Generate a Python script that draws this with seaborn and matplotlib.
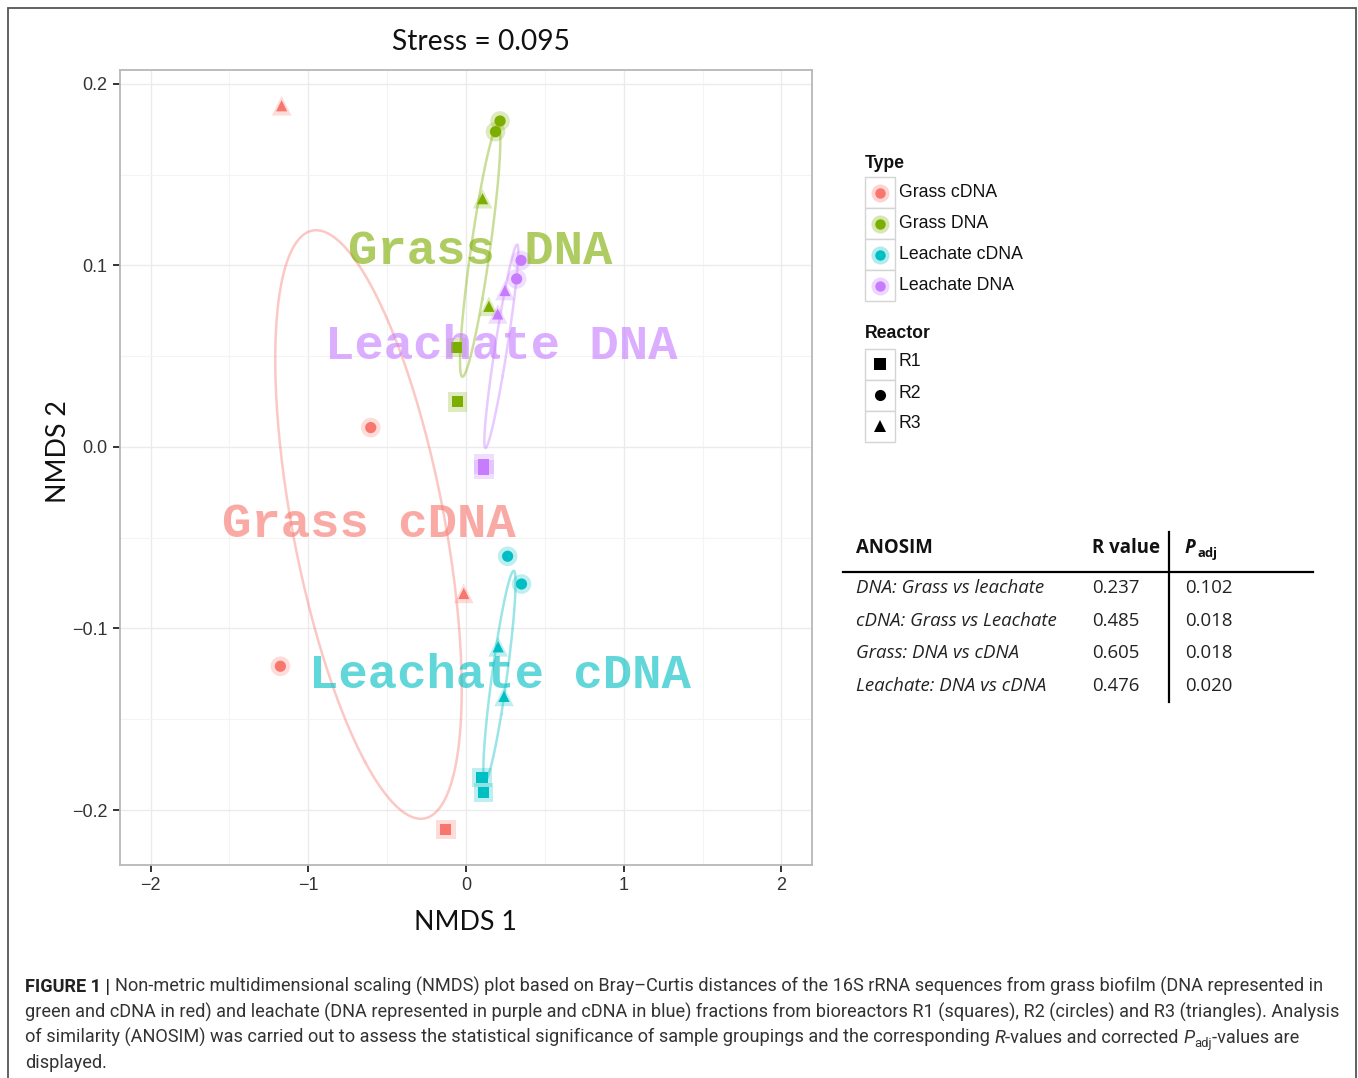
import numpy as np
import pandas as pd
import matplotlib
matplotlib.use("Agg")
import matplotlib.pyplot as plt
from matplotlib.patches import Rectangle
from matplotlib.lines import Line2D
import seaborn as sns

# ---------------- data ----------------
types = (["Grass cDNA"] * 5 + ["Grass DNA"] * 6 +
         ["Leachate cDNA"] * 6 + ["Leachate DNA"] * 6)
reactors = (["R3", "R2", "R3", "R2", "R1"] +
            ["R2", "R2", "R3", "R3", "R1", "R1"] +
            ["R2", "R2", "R3", "R3", "R1", "R1"] +
            ["R2", "R2", "R3", "R3", "R1", "R1"])
nmds1 = [-1.169, -0.604, -0.014, -1.177, -0.128,
         0.216, 0.187, 0.105, 0.145, -0.060, -0.053,
         0.264, 0.352, 0.204, 0.241, 0.102, 0.111,
         0.349, 0.321, 0.247, 0.201, 0.113, 0.113]
nmds2 = [0.188, 0.0107, -0.0807, -0.1208, -0.2107,
         0.1796, 0.1737, 0.1368, 0.0775, 0.0549, 0.0249,
         -0.0602, -0.0755, -0.1101, -0.1374, -0.1821, -0.1904,
         0.1028, 0.0926, 0.0862, 0.0733, -0.0095, -0.0125]

type_order = ["Grass cDNA", "Grass DNA", "Leachate cDNA", "Leachate DNA"]
type_colors = ["#F8766D", "#7CAE00", "#00BFC4", "#C77CFF"]
reactor_order = ["R1", "R2", "R3"]
reactor_markers = ["s", "o", "^"]

stress_text = "Stress = 0.095"
x_ticks = [-2, -1, 0, 1, 2]
y_ticks = [-0.2, -0.1, 0.0, 0.1, 0.2]

anosim_comparisons = ["DNA: Grass vs leachate", "cDNA: Grass vs Leachate",
                      "Grass: DNA vs cDNA", "Leachate: DNA vs cDNA"]
anosim_r = ["0.237", "0.485", "0.605", "0.476"]
anosim_p = ["0.102", "0.018", "0.018", "0.020"]

df = pd.DataFrame({"NMDS1": nmds1, "NMDS2": nmds2, "Type": types, "Reactor": reactors})
pal = dict(zip(type_order, type_colors))
mk = dict(zip(reactor_order, reactor_markers))

# ---------------- figure ----------------
W, H = 1358, 1078
fig = plt.figure(figsize=(W / 100, H / 100), dpi=100)
fig.patch.set_facecolor("white")
renderer = fig.canvas.get_renderer()


def fx(x):
    return x / W


def fy(y):
    return 1 - y / H


def text_w(s, **kw):
    t = fig.text(0, 0, "X" + s + "X", **kw)
    w1 = t.get_window_extent(renderer).width
    t.remove()
    t = fig.text(0, 0, "XX", **kw)
    w0 = t.get_window_extent(renderer).width
    t.remove()
    return w1 - w0


def fit_size(s, target, **kw):
    return 10 * target / text_w(s, size=10, **kw)


# outer frame of the figure
fig.add_artist(Rectangle((fx(8), -0.01), (1356 - 8) / W, fy(8) + 0.01,
                         transform=fig.transFigure, fill=False,
                         edgecolor="#555555", lw=1.3))

ax = fig.add_axes([fx(120), fy(865), 692 / W, 795 / H])
ax.set_facecolor("white")
ax.set_xlim(-2.194, 2.194)
ax.set_ylim(-0.2303, 0.2077)
ax.set_xticks(x_ticks)
ax.set_xticklabels([("\u2212%d" % -v) if v < 0 else "%d" % v for v in x_ticks])
ax.set_yticks(y_ticks)
ax.set_yticklabels([("\u2212%.1f" % -v) if v < 0 else "%.1f" % v for v in y_ticks])
ax.set_xticks([-1.5, -0.5, 0.5, 1.5], minor=True)
ax.set_yticks([-0.15, -0.05, 0.05, 0.15], minor=True)
ax.grid(True, which="major", color="#ebebeb", lw=1.0)
ax.grid(True, which="minor", color="#f4f4f4", lw=0.8)
ax.set_axisbelow(True)
for sp in ax.spines.values():
    sp.set_color("#b8b8b8")
    sp.set_linewidth(1.3)
ax.tick_params(which="major", direction="out", length=5, width=1.4,
               color="#333333", labelcolor="#333333", labelsize=13, pad=4)
ax.tick_params(which="minor", length=0)
for lab in ax.get_xticklabels() + ax.get_yticklabels():
    lab.set_family("Liberation Sans")

# ellipses (1-sd covariance ellipses computed from each group)
tt = np.linspace(0, 2 * np.pi, 300)
for name, col in zip(type_order, type_colors):
    g = df[df.Type == name]
    pts = g[["NMDS1", "NMDS2"]].to_numpy()
    mu = pts.mean(axis=0)
    cov = np.cov(pts.T)
    vals, vecs = np.linalg.eigh(cov)
    circ = np.vstack([np.cos(tt), np.sin(tt)])
    ell = (vecs @ np.diag(np.sqrt(vals) * 1.07) @ circ).T + mu
    ax.plot(ell[:, 0], ell[:, 1], color=col, alpha=0.4, lw=1.8, zorder=2)

# halo + points
sns.scatterplot(data=df, x="NMDS1", y="NMDS2", hue="Type", style="Reactor",
                hue_order=type_order, style_order=reactor_order, palette=pal,
                markers=mk, s=200, alpha=0.25, linewidth=0, legend=False,
                ax=ax, zorder=3)
sns.scatterplot(data=df, x="NMDS1", y="NMDS2", hue="Type", style="Reactor",
                hue_order=type_order, style_order=reactor_order, palette=pal,
                markers=mk, s=65, alpha=1.0, linewidth=0, legend=False,
                ax=ax, zorder=4)
ax.set_xlabel("")
ax.set_ylabel("")

# group labels at centroids
lab_size = fit_size("Grass DNA", 266, family="Liberation Mono", weight="bold")
for name, col in zip(type_order, type_colors):
    g = df[df.Type == name]
    ax.text(g.NMDS1.mean(), g.NMDS2.mean(), name, family="Liberation Mono",
            weight="bold", size=lab_size, color=col, alpha=0.62,
            ha="center", va="center", zorder=5)

# title and axis titles
ts = fit_size(stress_text, 177, family="Lato")
fig.text(fx(481), fy(42), stress_text, family="Lato", size=ts, ha="center",
         va="center", color="#111111")
xs = fit_size("NMDS 1", 102, family="Lato")
fig.text(fx(465), fy(923), "NMDS 1", family="Lato", size=xs, ha="center",
         va="center", color="#111111")
fig.text(fx(58), fy(452), "NMDS 2", family="Lato", size=xs, ha="center",
         va="center", rotation=90, color="#111111")

# ---------------- legends ----------------
leg_size = fit_size("Grass cDNA", 98, family="Liberation Sans")
fig.text(fx(865), fy(163), "Type", family="Liberation Sans", weight="bold",
         size=leg_size, va="center", color="#111111")
for i, (name, col) in enumerate(zip(type_order, type_colors)):
    yc = 192.5 + i * 31
    fig.add_artist(Rectangle((fx(865), fy(yc + 15.5)), 30 / W, 31 / H,
                             transform=fig.transFigure, facecolor="white",
                             edgecolor="#d4d4d4", lw=1.0))
    fig.add_artist(Line2D([fx(880)], [fy(yc)], marker="o", ms=13, color=col,
                          alpha=0.3, mew=0, transform=fig.transFigure))
    fig.add_artist(Line2D([fx(880)], [fy(yc)], marker="o", ms=7.5, color=col,
                          mew=0, transform=fig.transFigure))
    fig.text(fx(899), fy(yc), name, family="Liberation Sans", size=leg_size,
             va="center", color="#111111")

fig.text(fx(865), fy(333), "Reactor", family="Liberation Sans", weight="bold",
         size=leg_size, va="center", color="#111111")
for i, (name, m) in enumerate(zip(reactor_order, reactor_markers)):
    yc = 364 + i * 31
    fig.add_artist(Rectangle((fx(865), fy(yc + 15.5)), 30 / W, 31 / H,
                             transform=fig.transFigure, facecolor="white",
                             edgecolor="#d4d4d4", lw=1.0))
    fig.add_artist(Line2D([fx(880)], [fy(yc)], marker=m, ms=8, color="black",
                          mew=0, transform=fig.transFigure))
    fig.text(fx(899), fy(yc - 2), name, family="Liberation Sans", size=leg_size,
             va="center", color="#111111")

# ---------------- ANOSIM table ----------------
tab_size = fit_size(anosim_comparisons[0], 188, family="Open Sans", style="italic")
fig.text(fx(856), fy(548), "ANOSIM", family="Open Sans", weight="bold",
         size=tab_size, va="center", color="#111111")
fig.text(fx(1092), fy(548), "R value", family="Open Sans", weight="bold",
         size=tab_size, va="center", color="#111111")
fig.text(fx(1185), fy(548), "P", family="Open Sans", style="italic",
         weight="bold", size=tab_size, va="center", color="#111111")
fig.text(fx(1198), fy(554), "adj", family="Open Sans", weight="bold",
         size=tab_size * 0.7, va="center", color="#111111")
fig.add_artist(Line2D([fx(843), fx(1313)], [fy(572), fy(572)], color="black",
                      lw=1.6, transform=fig.transFigure))
fig.add_artist(Line2D([fx(1169), fx(1169)], [fy(532), fy(702)], color="black",
                      lw=1.6, transform=fig.transFigure))
for i in range(4):
    yc = 588 + i * 32.7
    fig.text(fx(856), fy(yc), anosim_comparisons[i], family="Open Sans",
             style="italic", size=tab_size, va="center", color="#222222")
    fig.text(fx(1092), fy(yc), anosim_r[i], family="Open Sans",
             size=tab_size, va="center", color="#222222")
    fig.text(fx(1185), fy(yc), anosim_p[i], family="Open Sans",
             size=tab_size, va="center", color="#222222")

# ---------------- caption ----------------
cap_fam = ["Liberation Sans Narrow", "Roboto", "Liberation Sans"]
l1a = "FIGURE 1 | "
l1b = ("Non-metric multidimensional scaling (NMDS) plot based on Bray\u2013Curtis "
       "distances of the 16S rRNA sequences from grass biofilm (DNA represented in")
w_a = text_w(l1a, size=10, family=cap_fam, weight="bold")
w_b = text_w(l1b, size=10, family=cap_fam)
cap_size = 10 * 1297 / (w_a + w_b)
cap_col = "#333333"


def draw_line(pieces, x0, ybase):
    x = x0
    for s, kw, dy, sf in pieces:
        kw2 = dict(family=cap_fam, size=cap_size * sf, color=cap_col)
        kw2.update(kw)
        fig.text(fx(x), fy(ybase + dy), s, va="baseline", **kw2)
        x += text_w(s, **kw2)


draw_line([(l1a, {"weight": "bold", "color": "#222222"}, 0, 1.0), (l1b, {}, 0, 1.0)], 25, 992)
draw_line([("green and cDNA in red) and leachate (DNA represented in purple and cDNA in blue) "
            "fractions from bioreactors R1 (squares), R2 (circles) and R3 (triangles). Analysis",
            {}, 0, 1.0)], 25, 1017.5)
draw_line([("of similarity (ANOSIM) was carried out to assess the statistical significance of "
            "sample groupings and the corresponding ", {}, 0, 1.0),
           ("R", {"style": "italic"}, 0, 1.0),
           ("-values and corrected ", {}, 0, 1.0),
           ("P", {"style": "italic"}, 0, 1.0),
           ("adj", {}, 4, 0.72),
           ("-values are", {}, 0, 1.0)], 25, 1043)
draw_line([("displayed.", {}, 0, 1.0)], 25, 1068.5)

fig.savefig("out.png", dpi=100, facecolor="white")
